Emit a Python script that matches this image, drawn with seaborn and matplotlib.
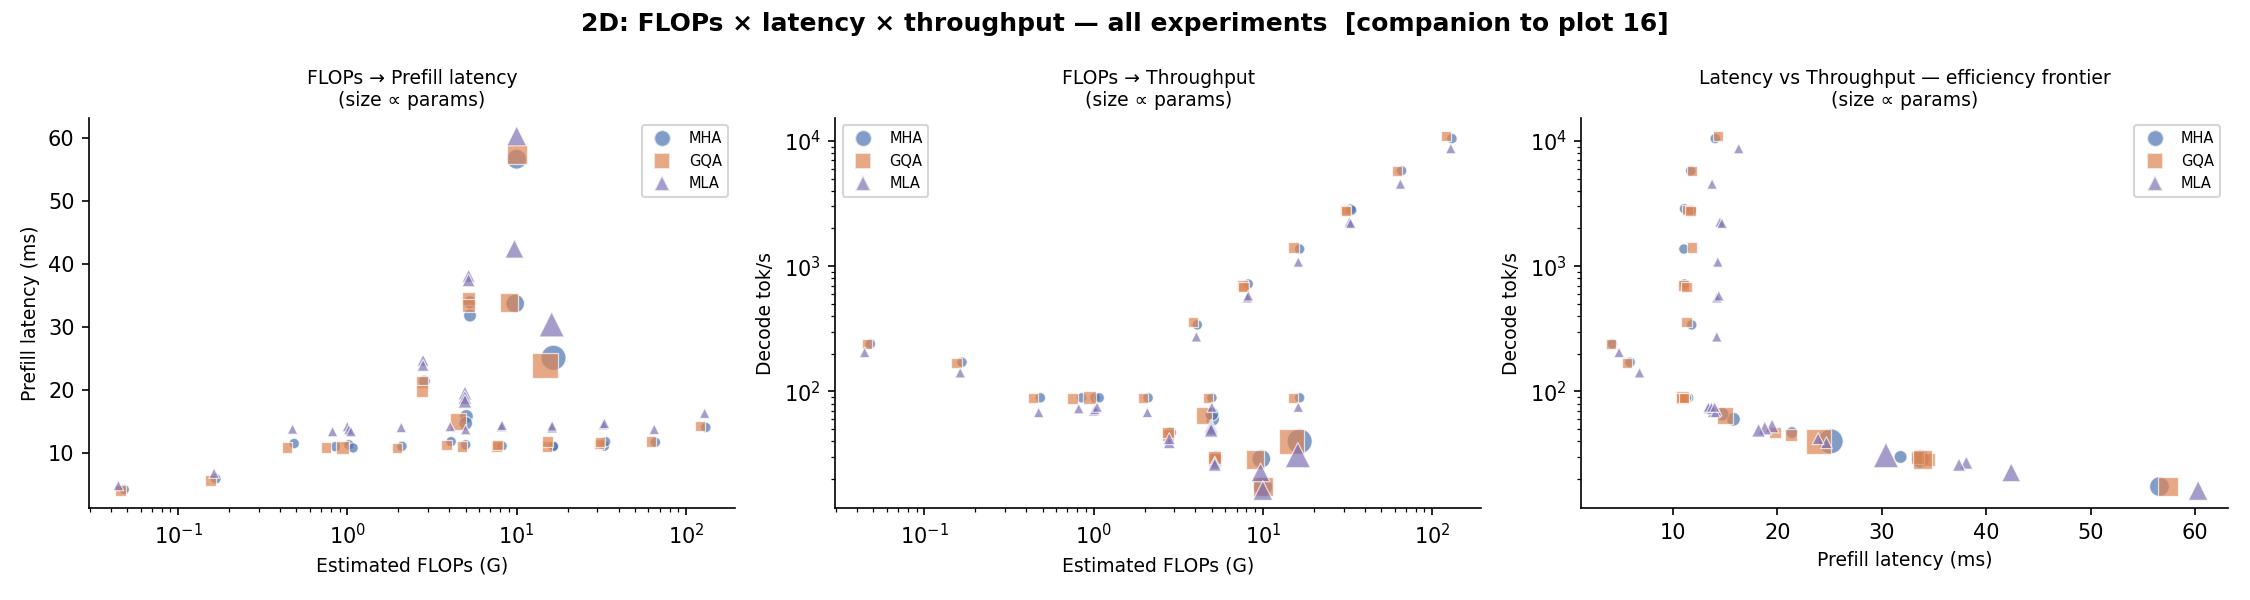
import numpy as np
import pandas as pd
import matplotlib
matplotlib.use('Agg')
import matplotlib.pyplot as plt
import seaborn as sns
from matplotlib.lines import Line2D

# データ (arch, FLOPs[G], prefill latency[ms], decode tok/s, params[M])
arch = (['MHA'] * 24) + (['GQA'] * 24) + (['MLA'] * 28)

flops_g = [
    # MHA
    0.048, 0.167, 0.485, 0.85, 1.02, 1.08, 2.1, 5.0, 16.5,
    4.1, 8.2, 16.5, 33.0, 33.5, 66.0, 131.0,
    2.85, 5.05, 5.0, 5.3, 5.3, 9.8, 10.0, 16.5,
    # GQA
    0.0457, 0.155, 0.44, 0.75, 0.94, 1.96, 4.75, 15.1,
    3.86, 7.6, 7.7, 15.2, 30.6, 31.0, 62.0, 121.0,
    2.75, 2.75, 4.5, 5.2, 5.2, 9.0, 10.0, 14.7,
    # MLA
    0.0444, 0.163, 0.474, 0.817, 1.0, 1.02, 1.05, 2.08, 5.0, 16.2,
    4.05, 8.1, 8.2, 16.2, 32.5, 33.0, 65.0, 129.0,
    2.8, 2.8, 4.95, 4.95, 4.95, 5.2, 5.2, 9.7, 10.0, 16.1,
]

prefill_ms = [
    # MHA
    4.2, 5.9, 11.5, 11.0, 11.3, 10.8, 11.05, 11.3, 11.0,
    11.8, 11.1, 11.05, 11.1, 11.8, 11.7, 14.05,
    21.4, 15.8, 14.7, 31.8, 33.9, 33.7, 56.6, 25.1,
    # GQA
    4.05, 5.6, 10.9, 10.9, 10.9, 10.8, 11.05, 11.05,
    11.3, 11.0, 11.3, 11.8, 11.4, 11.7, 11.8, 14.3,
    21.3, 19.8, 15.0, 34.5, 33.4, 33.9, 57.4, 23.9,
    # MLA
    4.84, 6.8, 13.8, 13.4, 14.2, 13.7, 13.4, 14.05, 13.7, 14.0,
    14.2, 14.2, 14.4, 14.3, 14.5, 14.7, 13.75, 16.3,
    24.7, 23.9, 19.5, 18.8, 18.2, 38.1, 37.4, 42.4, 60.3, 30.4,
]

decode_tps = [
    # MHA
    240, 171, 89, 89, 89, 89, 89, 89, 89,
    340, 720, 1370, 2870, 2800, 5780, 10440,
    47, 60, 66, 30, 29, 29, 17.4, 40,
    # GQA
    239, 169, 89, 88, 89, 89, 89, 89,
    360, 700, 680, 1410, 2800, 2750, 5780, 10960,
    45, 47, 64, 28.5, 29.5, 28.6, 17.4, 40,
    # MLA
    205, 141, 68, 73, 70, 72, 75, 68, 75, 75,
    273, 560, 580, 1080, 2250, 2200, 4530, 8690,
    39, 42, 53, 51, 49, 27, 26, 22.6, 16.2, 31,
]

params_m = [
    # MHA
    20, 20, 20, 20, 20, 20, 20, 20, 20,
    20, 20, 20, 20, 20, 20, 20,
    28, 40, 40, 35, 35, 80, 90, 150,
    # GQA
    20, 20, 20, 20, 35, 20, 20, 20,
    20, 20, 20, 20, 20, 20, 20, 20,
    28, 28, 62, 35, 35, 80, 90, 150,
    # MLA
    20, 20, 20, 20, 20, 20, 20, 20, 20, 20,
    20, 20, 20, 20, 20, 20, 20, 20,
    28, 28, 40, 40, 40, 35, 35, 80, 90, 150,
]

df = pd.DataFrame({
    'arch': arch,
    'flops_g': flops_g,
    'prefill_ms': prefill_ms,
    'decode_tps': decode_tps,
    'params_m': params_m,
})

order = ['MHA', 'GQA', 'MLA']
deep = sns.color_palette('deep')
palette = {'MHA': deep[0], 'GQA': deep[1], 'MLA': deep[4]}
markers = {'MHA': 'o', 'GQA': 's', 'MLA': '^'}

fig, axes = plt.subplots(1, 3, figsize=(15, 4), dpi=150)
fig.subplots_adjust(left=0.0396, right=0.99, top=0.803, bottom=0.153, wspace=0.155)

panels = [
    ('flops_g', 'prefill_ms', 'FLOPs → Prefill latency\n(size ∝ params)',
     'Estimated FLOPs (G)', 'Prefill latency (ms)', True, False, 'upper right'),
    ('flops_g', 'decode_tps', 'FLOPs → Throughput\n(size ∝ params)',
     'Estimated FLOPs (G)', 'Decode tok/s', True, True, 'upper left'),
    ('prefill_ms', 'decode_tps', 'Latency vs Throughput — efficiency frontier\n(size ∝ params)',
     'Prefill latency (ms)', 'Decode tok/s', False, True, 'upper right'),
]

for ax, (xc, yc, title, xl, yl, logx, logy, loc) in zip(axes, panels):
    sns.scatterplot(data=df, x=xc, y=yc, hue='arch', style='arch', size='params_m',
                    hue_order=order, style_order=order, palette=palette, markers=markers,
                    sizes=(25, 145), alpha=0.7, edgecolor='white', linewidth=0.6,
                    legend=False, ax=ax)
    if logx:
        ax.set_xscale('log')
    if logy:
        ax.set_yscale('log')
    ax.set_title(title, fontsize=9)
    ax.set_xlabel(xl, fontsize=9)
    ax.set_ylabel(yl, fontsize=9)
    # 凡例は手動で (サイズ凡例は出さない)
    handles = [Line2D([], [], marker=markers[a], linestyle='', color=palette[a],
                      markersize=8, alpha=0.7, markeredgecolor='white') for a in order]
    ax.legend(handles, order, loc=loc, fontsize=7)
    sns.despine(ax=ax)

fig.suptitle('2D: FLOPs × latency × throughput — all experiments  [companion to plot 16]',
             fontsize=12, fontweight='bold')

plt.savefig('out.png', dpi=150)
plt.close()
